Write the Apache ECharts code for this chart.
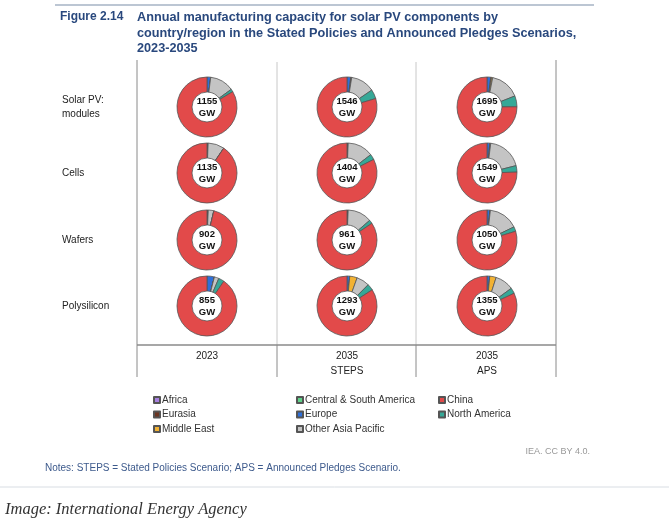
<!DOCTYPE html>
<html><head><meta charset="utf-8">
<script src="https://cdn.jsdelivr.net/npm/echarts@6/dist/echarts.min.js"></script>
<style>html,body{margin:0;padding:0;background:#fff}#c{width:669px;height:521px}</style>
</head><body><div id="c"></div>
<script>
// Categories
const components = ['Solar PV:\nmodules', 'Cells', 'Wafers', 'Polysilicon'];
const scenarios = ['2023', '2035\nSTEPS', '2035\nAPS'];
const legendCol1 = ['Africa', 'Eurasia', 'Middle East'];
const legendCol2 = ['Central & South America', 'Europe', 'Other Asia Pacific'];
const legendCol3 = ['China', 'North America'];
// Values in GW: rows = components, columns = scenarios
const totals = [[1155, 1546, 1695], [1135, 1404, 1549], [902, 961, 1050], [855, 1293, 1355]];
const africa = [[0, 0, 0], [0, 0, 0], [0, 0, 0], [0, 0, 0]];
const centralSouthAmerica = [[0, 0, 0], [0, 0, 0], [0, 0, 0], [0, 0, 0]];
const europe = [[23, 31, 34], [4, 5, 23], [3, 3, 16], [34, 19, 20]];
const eurasia = [[0, 8, 8], [3, 4, 8], [3, 3, 3], [0, 0, 0]];
const middleEast = [[0, 0, 10], [0, 0, 0], [0, 0, 0], [0, 52, 47]];
const otherAsiaPacific = [[150, 200, 270], [100, 195, 295], [27, 125, 168], [21, 90, 136]];
const northAmerica = [[17, 77, 100], [0, 42, 54], [0, 19, 26], [26, 45, 41]];
const china = [[965, 1230, 1273], [1028, 1158, 1169], [869, 811, 837], [774, 1087, 1111]];

const regionSeries = [
  ['Africa', africa, '#a77fe0'],
  ['Central & South America', centralSouthAmerica, '#5fd38a'],
  ['Europe', europe, '#2f6fd8'],
  ['Eurasia', eurasia, '#6b3522'],
  ['Middle East', middleEast, '#f2b233'],
  ['Other Asia Pacific', otherAsiaPacific, '#c4c4c4'],
  ['North America', northAmerica, '#36a897'],
  ['China', china, '#e24a4a']
];

const colX = [207, 347, 487];
const rowY = [107, 173, 240, 306];

const chart = echarts.init(document.getElementById('c'));
const series = [];
components.forEach((comp, r) => {
  scenarios.forEach((sc, c) => {
    series.push({
      type: 'pie',
      silent: true,
      animation: false,
      center: [colX[c], rowY[r]],
      radius: [15, 30],
      startAngle: 90,
      clockwise: true,
      itemStyle: { borderColor: '#555', borderWidth: 0.8 },
      label: {
        show: true, position: 'center',
        formatter: p => p.name === 'China' ? totals[r][c] + '\nGW' : '',
        fontFamily: 'Liberation Sans, Arial', fontSize: 9.5, fontWeight: 'bold', color: '#111', lineHeight: 12
      },
      labelLine: { show: false },
      emphasis: { disabled: true },
      data: regionSeries.map(([name, arr, color]) => ({ name, value: arr[r][c], itemStyle: { color } }))
    });
  });
});

const lineC = '#c8c8c8', boxC = '#8a8a8a';
const font = 'Liberation Sans, Arial, sans-serif';
const graphic = [
  { type: 'line', shape: { x1: 55, y1: 5, x2: 594, y2: 5 }, style: { stroke: '#bcc6d3', lineWidth: 2 } },
  { type: 'text', left: 60, top: 11, style: { text: 'Figure 2.14', font: 'bold 12px ' + font, fill: '#29487d' } },
  { type: 'text', left: 137, top: 10, style: { text: 'Annual manufacturing capacity for solar PV components by\ncountry/region in the Stated Policies and Announced Pledges Scenarios,\n2023-2035', font: 'bold 12.7px ' + font, fill: '#29487d', lineHeight: 15.5 } },
  // frame
  { type: 'line', shape: { x1: 137, y1: 60, x2: 137, y2: 377 }, style: { stroke: boxC, lineWidth: 1 } },
  { type: 'line', shape: { x1: 556, y1: 60, x2: 556, y2: 377 }, style: { stroke: boxC, lineWidth: 1 } },
  { type: 'line', shape: { x1: 277, y1: 62, x2: 277, y2: 345 }, style: { stroke: lineC, lineWidth: 1 } },
  { type: 'line', shape: { x1: 416, y1: 62, x2: 416, y2: 345 }, style: { stroke: lineC, lineWidth: 1 } },
  { type: 'line', shape: { x1: 277, y1: 345, x2: 277, y2: 377 }, style: { stroke: boxC, lineWidth: 1 } },
  { type: 'line', shape: { x1: 416, y1: 345, x2: 416, y2: 377 }, style: { stroke: boxC, lineWidth: 1 } },
  { type: 'line', shape: { x1: 137, y1: 345, x2: 556, y2: 345 }, style: { stroke: boxC, lineWidth: 1.5 } },
  { type: 'text', right: 79, top: 447, style: { text: 'IEA. CC BY 4.0.', font: '9px ' + font, fill: '#999' } },
  { type: 'text', left: 45, top: 463, style: { text: 'Notes: STEPS = Stated Policies Scenario; APS = Announced Pledges Scenario.', font: '10px ' + font, fill: '#3d5a8c' } },
  { type: 'line', shape: { x1: 0, y1: 487, x2: 669, y2: 487 }, style: { stroke: '#d8dde3', lineWidth: 1 } },
  { type: 'text', left: 5, top: 501, style: { text: 'Image: International Energy Agency', font: 'italic 16.5px "Liberation Serif", "DejaVu Serif", serif', fill: '#333' } }
];
components.forEach((comp, r) => {
  graphic.push({ type: 'text', x: 62, y: rowY[r], style: { text: comp, font: '10px ' + font, fill: '#222', verticalAlign: 'middle', lineHeight: 14 } });
});
scenarios.forEach((sc, c) => {
  graphic.push({ type: 'text', x: colX[c], y: 349, style: { text: sc, font: '10px ' + font, fill: '#222', align: 'center', verticalAlign: 'top', lineHeight: 15 } });
});

const mkLegend = (data, left) => ({
  data, left, top: 389, orient: 'vertical', selectedMode: false,
  icon: 'rect', itemWidth: 6, itemHeight: 6, itemGap: 2.5,
  textStyle: { fontFamily: font, fontSize: 10, color: '#333', padding: [0, 0, 0, -3], lineHeight: 12 }
});

chart.setOption({
  backgroundColor: '#fff',
  animation: false,
  legend: [mkLegend(legendCol1, 148), mkLegend(legendCol2, 291), mkLegend(legendCol3, 433)],
  graphic,
  series
});
</script>
</body></html>
